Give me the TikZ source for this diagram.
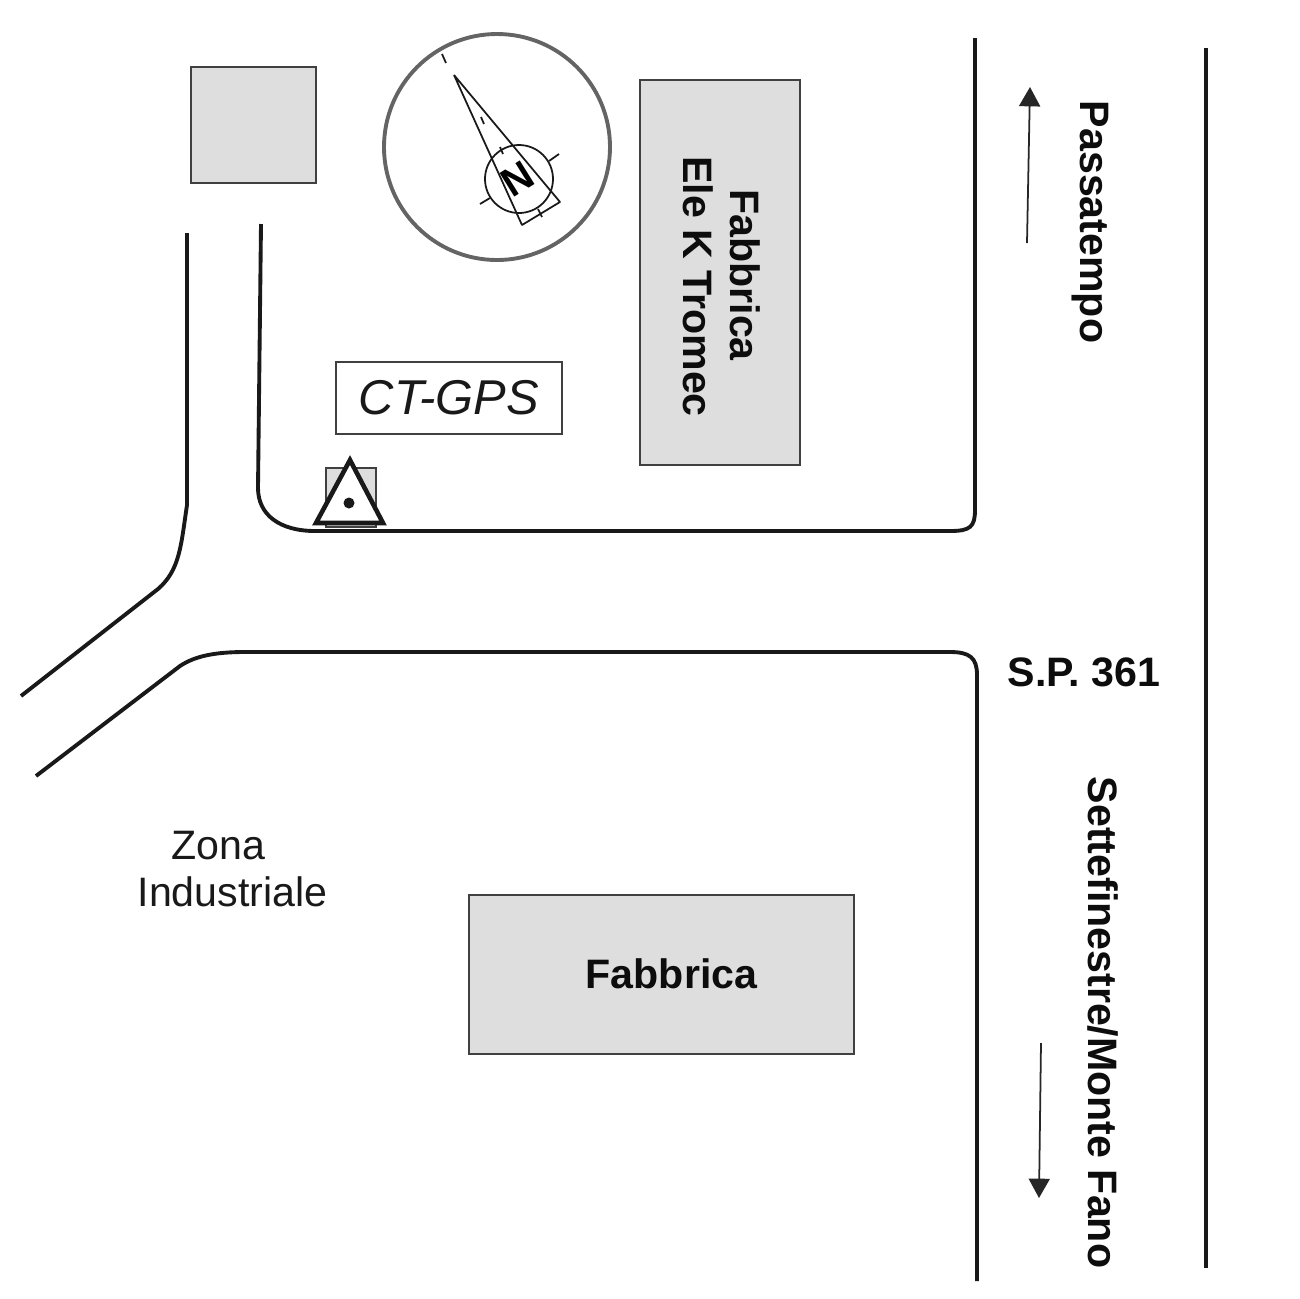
\documentclass[tikz,border=0pt]{standalone}
\usepackage{fontspec}
\setmainfont{Liberation Sans}
\usetikzlibrary{arrows.meta}

\definecolor{plantgrey}{RGB}{222,222,222}
\definecolor{ringgrey}{RGB}{100,100,100}

\tikzstyle{road} = [line width=1.1pt, black!90, line cap=butt]
\tikzstyle{building} = [draw=black!75, line width=0.4pt, fill=plantgrey]
\tikzstyle{buildlabel} = [font=\fontsize{11.7}{13.5}\selectfont\bfseries, text=black!95, inner sep=0pt]
\tikzstyle{placelabel} = [font=\fontsize{11.7}{13.5}\selectfont, text=black!90, inner sep=0pt]
\tikzstyle{pointer} = [line width=0.5pt, black!85, -{Triangle[length=5.5pt,width=6pt]}]
\tikzstyle{compass} = [line width=0.5pt, black!90]

\begin{document}
\begin{tikzpicture}[x=0.01cm,y=-0.01cm]
\useasboundingbox (0,0) rectangle (1299,1299);

% buildings
\node (plantA) [building, minimum width=125*0.01cm, minimum height=116*0.01cm] at (253.5,125) {};
\node (plantB) [building, minimum width=160*0.01cm, minimum height=385*0.01cm] at (720,272.5) {};
\node (plantC) [building, minimum width=385*0.01cm, minimum height=159*0.01cm] at (661.5,974.5) {};
\node (nameC) [buildlabel] at (671.5,974) {Fabbrica};
\node (nameB1) [buildlabel, rotate=-90] at (745,275) {Fabbrica};
\node (nameB2) [buildlabel, rotate=-90] at (698,286.5) {Ele K Tromec};

% roads
\draw [road] (975,38) -- (975,510) .. controls (975,527) and (970,531) .. (950,531) -- (315,531) .. controls (280,531) and (258,515) .. (258,488) -- (261,224);
\draw [road] (187,233) -- (187,505) .. controls (181,545) and (180,570) .. (158,589) -- (21,696);
\draw [road] (36,776) -- (180,666) .. controls (195,656) and (215,652) .. (245,652) -- (950,652) .. controls (970,652) and (977,658) .. (977,675) -- (977,1281);
\draw [road] (1206,48) -- (1206,1268);

% station
\node (station) [building, minimum width=50*0.01cm, minimum height=59*0.01cm] at (351,497.5) {};
\coordinate (triTop) at (350,460);
\coordinate (triLeft) at (316,523);
\coordinate (triRight) at (383,523);
\draw [line width=1.3pt, black!90, fill=white, miter limit=10] (triTop) -- (triRight) -- (triLeft) -- cycle;
\fill [black!90] (349,503) circle (5.5);
\node (gpsbox) [draw=black!75, line width=0.4pt, minimum width=226*0.01cm, minimum height=72*0.01cm, font=\fontsize{13.9}{15}\selectfont\itshape, text=black!90, inner sep=0pt] at (449,398) {CT-GPS};

% compass
\draw [ringgrey, line width=1.1pt] (497,147) circle (113);
\draw [compass] (519,179) circle (34);
\draw [compass, line join=bevel] (454,75) -- (522,225) -- (560,202) -- cycle;
\draw [compass] (442,54) -- (446,63);
\draw [compass] (481,117) -- (484,124);
\draw [compass] (500,147) -- (503,154);
\draw [compass] (549,161) -- (559,154);
\draw [compass] (480,204) -- (490,198);
\draw [compass] (538,209) -- (542,217);
\node (north) [font=\fontsize{11.5}{13}\selectfont\bfseries, text=black, inner sep=0pt, rotate=32] at (518,179) {N};

% street names
\node (sp) [buildlabel] at (1084,672) {S.P. 361};
\node (toPass) [buildlabel, rotate=-90] at (1090,222) {Passatempo};
\node (toSette) [buildlabel, rotate=-90] at (1103,1022.5) {Settefinestre/Monte Fano};
\node (zona) [placelabel] at (218,846) {Zona};
\node (indus) [placelabel] at (232.5,892) {Industriale};

% directions
\coordinate (upFrom) at (1027,243);
\coordinate (upTo) at (1030,87);
\coordinate (downFrom) at (1041,1043);
\coordinate (downTo) at (1039,1198);
\draw [pointer] (upFrom) -- (upTo);
\draw [pointer] (downFrom) -- (downTo);

\end{tikzpicture}
\end{document}
